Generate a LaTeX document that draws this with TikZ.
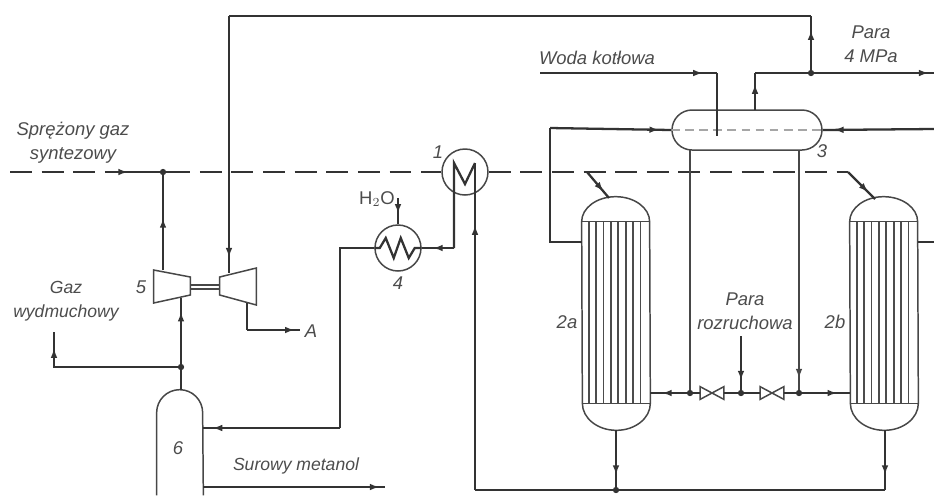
\documentclass[tikz,border=0pt]{standalone}
\usepackage{fontspec}
\setmainfont{Liberation Sans}
\usetikzlibrary{shapes.misc, arrows.meta, decorations.markings, calc}

\begin{document}
\begin{tikzpicture}[x=0.02cm, y=-0.02cm, >={Latex[length=5.5pt,width=3.8pt]}]
    \tikzstyle{pipe} = [draw=black!80, line width=1.3pt, line join=miter]
    \tikzstyle{gasLine} = [pipe, dash pattern=on 12.5pt off 5.5pt]
    \tikzstyle{thinLine} = [draw=black!72, line width=0.85pt]
    \tikzstyle{tubeLine} = [draw=black!70, line width=1pt]
    \tikzstyle{flow} = [postaction={decorate, decoration={markings, mark=at position #1 with {\arrow{>}}}}]
    \tikzstyle{label} = [text=black!70, font=\itshape\fontsize{10.5}{12.5}\selectfont, align=center, inner sep=0pt]
    \tikzstyle{smallLabel} = [label, font=\itshape\fontsize{10}{12.5}\selectfont]
    \tikzstyle{exchanger} = [circle, thinLine, minimum size=0.92cm, inner sep=0pt]
    \tikzstyle{reactor} = [rectangle, minimum width=1.36cm, minimum height=3.62cm, inner sep=0pt]
    \tikzstyle{machine} = [rectangle, minimum width=0.72cm, minimum height=0.72cm, inner sep=0pt]
    \tikzstyle{junction} = [circle, fill=black!80, minimum size=3.6pt, inner sep=0pt]
    \tikzstyle{valve} = [rectangle, minimum width=0.46cm, minimum height=0.24cm, inner sep=0pt]

    \useasboundingbox (0,0) rectangle (934,495);

    % equipment
    \node[exchanger] (ex1) at (465,172) {};
    \node[exchanger] (ex4) at (398,248) {};
    \node[rounded rectangle, thinLine, minimum width=3cm, minimum height=0.8cm, inner sep=0pt] (drum) at (747,130) {};
    \node[reactor] (r2a) at (616,312.5) {};
    \node[reactor] (r2b) at (884,312.5) {};
    \node[machine] (comp) at (172,287) {};
    \node[machine] (turb) at (238,287) {};
    \node[rectangle, minimum width=0.92cm, minimum height=2.1cm, inner sep=0pt] (sep) at (180,442.5) {};
    \node[valve] (v1) at (712,393) {};
    \node[valve] (v2) at (772,393) {};

    \foreach \r in {r2a, r2b} {
        \draw[thinLine] (\r.north west) arc[start angle=180, end angle=0, x radius=0.68cm, y radius=0.5cm]
            -- (\r.south east) arc[start angle=0, end angle=-180, x radius=0.68cm, y radius=0.54cm] -- cycle;
        \draw[thinLine] (\r.north west) -- (\r.north east);
        \draw[thinLine] (\r.south west) -- (\r.south east);
        \foreach \dx in {7,14.4,...,62}
            \draw[tubeLine] ($(\r.north west)+(\dx,0)$) -- ($(\r.south west)+(\dx,0)$);
    }
    \draw[thinLine] (sep.south west) -- ($(sep.north west)+(0,23)$) arc[start angle=180, end angle=0, radius=0.46cm] -- (sep.south east);
    \draw[thinLine] ($(comp.west)+(0,-17)$) -- ($(comp.east)+(0,-10)$) -- ($(comp.east)+(0,8)$) -- ($(comp.west)+(0,16)$) -- cycle;
    \draw[thinLine] ($(turb.east)+(0,-19)$) -- ($(turb.west)+(0,-10)$) -- ($(turb.west)+(0,8)$) -- ($(turb.east)+(0,18)$) -- cycle;
    \draw[thinLine] ([yshift=1.2pt]comp.east) -- ([yshift=1.2pt]turb.west);
    \draw[thinLine] ([yshift=-1.2pt]comp.east) -- ([yshift=-1.2pt]turb.west);
    \foreach \v in {v1, v2}
        \draw[thinLine] (\v.north west) -- (\v.south east) -- (\v.north east) -- (\v.south west) -- cycle;
    \draw[draw=black!35, line width=0.9pt, dash pattern=on 5pt off 3pt] (drum.west) -- (drum.east);

    % ports
    \coordinate (gasIn) at (10,172);
    \coordinate (gasSolid) at (108,172);
    \coordinate (gasTip) at (128,172);
    \coordinate (gasTee) at (163,172);
    \coordinate (gasEnd) at (180,172);
    \coordinate (compOut) at (163,270);
    \coordinate (topTurb) at (229,16);
    \coordinate (turbIn) at (229,273);
    \coordinate (topEnd) at (811,16);
    \coordinate (steamTee) at (811,73);
    \coordinate (steamEnd) at (934,73);
    \coordinate (steamUp) at (755,73);
    \coordinate (drumOut) at (755,110);
    \coordinate (waterIn) at (540,73);
    \coordinate (waterTurn) at (717,73);
    \coordinate (waterEnd) at (717,136);
    \coordinate (drumLeft) at (550,128);
    \coordinate (r2aSide) at (550,242);
    \coordinate (r2aIn) at (582,242);
    \coordinate (drumRight) at (934,129);
    \coordinate (r2bIn) at (918,242);
    \coordinate (r2bOut) at (934,242);
    \coordinate (gasBendA) at (587,172);
    \coordinate (domeA) at (609,198);
    \coordinate (gasBendB) at (848,172);
    \coordinate (domeB) at (875,199);
    \coordinate (downA) at (690,393);
    \coordinate (downB) at (799,393);
    \coordinate (drumA) at (690,150);
    \coordinate (drumB) at (799,150);
    \coordinate (startIn) at (741,336);
    \coordinate (startTee) at (741,393);
    \coordinate (hdrA) at (650,393);
    \coordinate (hdrB) at (850,393);
    \coordinate (outA) at (616,430);
    \coordinate (outB) at (885,430);
    \coordinate (teeA) at (616,490);
    \coordinate (teeB) at (885,490);
    \coordinate (backCorner) at (475,490);
    \coordinate (coilTop) at (475,163);
    \coordinate (coilLeft) at (454,163);
    \coordinate (coilMid) at (465,184);
    \coordinate (coilIn) at (454,248);
    \coordinate (coilTip) at (433,248);
    \coordinate (waterTop) at (398,198);
    \coordinate (sepBack) at (340,428);
    \coordinate (sepUp) at (340,248);
    \coordinate (sepIn) at (203,428);
    \coordinate (rawOut) at (203,487);
    \coordinate (rawEnd) at (385,487);
    \coordinate (sepTop) at (181,390);
    \coordinate (ventTee) at (181,367);
    \coordinate (compIn) at (181,298);
    \coordinate (ventCorner) at (54,367);
    \coordinate (ventEnd) at (54,332);
    \coordinate (turbOut) at (247,303);
    \coordinate (turbDown) at (247,330);
    \coordinate (turbEnd) at (300,330);

    % process gas
    \draw[gasLine] (gasIn) -- (ex1.west);
    \draw[pipe, flow=1] (gasSolid) -- (gasTip);
    \draw[pipe] (gasTip) -- (gasEnd);
    \draw[gasLine] (ex1.east) -- (gasBendB);
    \draw[pipe, flow=0.75] (gasBendA) -- (domeA);
    \draw[pipe, flow=0.75] (gasBendB) -- (domeB);
    \draw[pipe, flow=0.53] (compOut) -- (gasTee);
    \draw[pipe, flow=0.85] (sepTop) -- (compIn);
    \draw[pipe, flow=0.9] (ventTee) -- (ventCorner) -- (ventEnd);
    \draw[pipe, flow=0.94] (topTurb) -- (turbIn);
    \draw[pipe] (topEnd) -- (topTurb);
    \draw[pipe] (turbOut) -- (turbDown);
    \draw[pipe, flow=0.9] (turbDown) -- (turbEnd);

    % steam side
    \draw[pipe, flow=0.7] (drumOut) -- (steamUp);
    \draw[pipe, flow=0.97] (steamUp) -- (steamEnd);
    \draw[pipe, flow=0.75] (steamTee) -- (topEnd);
    \draw[pipe, flow=0.92] (waterIn) -- (waterTurn);
    \draw[pipe] (waterTurn) -- (waterEnd);
    \draw[pipe] (r2aIn) -- (r2aSide) -- (drumLeft);
    \draw[pipe, flow=0.9] (drumLeft) -- (drum.west);
    \draw[pipe, flow=0.9] (drumRight) -- (drum.east);
    \draw[pipe] (r2bIn) -- (r2bOut);
    \draw[thinLine] (drumA) -- (downA);
    \draw[thinLine, flow=0.94] (drumB) -- (downB);
    \draw[pipe, flow=0.78] (startIn) -- (startTee);
    \draw[pipe, flow=0.7] (downA) -- (hdrA);
    \draw[pipe, flow=0.75] (downB) -- (hdrB);
    \draw[pipe] (downA) -- (v1.west);
    \draw[pipe] (v1.east) -- (v2.west);
    \draw[pipe] (v2.east) -- (downB);

    % return to separator
    \draw[pipe, flow=0.75] (outA) -- (teeA);
    \draw[pipe, flow=0.75] (outB) -- (teeB);
    \draw[pipe] (teeB) -- (backCorner);
    \draw[pipe, flow=0.81] (backCorner) -- (coilTop);
    \draw[pipe] (coilTop) -- (coilMid) -- (coilLeft) -- (coilIn);
    \draw[pipe, flow=1] (coilIn) -- (coilTip);
    \draw[pipe] (coilTip) -- (ex4.east);
    \draw[pipe] (ex4.east) -- ++(-7,0) -- ++(-6,10) -- ++(-8,-20) -- ++(-7,20) -- ++(-8,-20) -- ++(-6,10) -- (ex4.west);
    \draw[pipe] (ex4.west) -- (sepUp) -- (sepBack);
    \draw[pipe, flow=0.93] (sepBack) -- (sepIn);
    \draw[pipe, flow=0.6] (waterTop) -- (ex4.north);
    \draw[pipe, flow=0.97] (rawOut) -- (rawEnd);

    \foreach \j in {gasTee, ventTee, steamTee, downA, downB, startTee, teeA}
        \node[junction] (dot\j) at (\j) {};

    % labels
    \node[label] (gasLabel) at (73,143) {Sprężony gaz\\[1pt]syntezowy};
    \node[smallLabel] (ventLabel) at (66,301) {Gaz\\[1pt]wydmuchowy};
    \node[label] (waterLabel) at (597,58) {Woda kotłowa};
    \node[label] (steamLabel) at (871,44) {Para\\[1pt]4 MPa};
    \node[label] (startLabel) at (745,311) {Para\\[1pt]rozruchowa};
    \node[smallLabel] (rawLabel) at (296,466) {Surowy metanol};
    \node[label] (lab1) at (438,152) {1};
    \node[label] (lab2a) at (567,322) {2a};
    \node[label] (lab2b) at (835,322) {2b};
    \node[label] (lab3) at (822,151) {3};
    \node[label] (lab4) at (398,283) {4};
    \node[label] (lab5) at (141,287) {5};
    \node[label] (lab6) at (178,448) {6};
    \node[label] (labA) at (311,331) {A};
    \node[label, font=\fontsize{10.5}{12.5}\selectfont] (labWater) at (377,199) {H$_2$O};
\end{tikzpicture}
\end{document}
